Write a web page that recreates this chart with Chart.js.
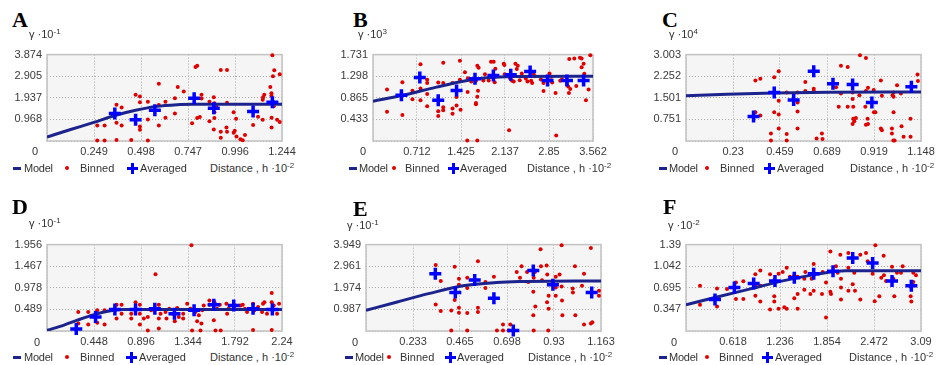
<!DOCTYPE html>
<html><head><meta charset="utf-8">
<script src="https://cdn.jsdelivr.net/npm/chart.js@4.4.0/dist/chart.umd.min.js"></script>
<style>
body{margin:0;background:#fff;width:938px;height:365px;overflow:hidden;position:relative;font-family:"Liberation Sans",Arial,sans-serif;}
canvas{position:absolute;}
.t{position:absolute;white-space:nowrap;color:#333;font-size:11px;line-height:11px;}
.m{letter-spacing:-0.25px;}
.s{font-size:8px;position:relative;top:-4px;}
.letter{position:absolute;font-family:"Liberation Serif","Times New Roman",serif;font-weight:bold;font-size:22px;line-height:22px;color:#000;}
.ic{position:absolute;}
</style>
</head><body>
<script>
// ---------- data ----------
const xTicksA = ['0','0.249','0.498','0.747','0.996','1.244'];
const yTicksA = ['0','0.968','1.937','2.905','3.874'];
const xTicksB = ['0','0.712','1.425','2.137','2.85','3.562'];
const yTicksB = ['0','0.433','0.865','1.298','1.731'];
const xTicksC = ['0','0.23','0.459','0.689','0.919','1.148'];
const yTicksC = ['0','0.751','1.501','2.252','3.003'];
const xTicksD = ['0','0.448','0.896','1.344','1.792','2.24'];
const yTicksD = ['0','0.489','0.978','1.467','1.956'];
const xTicksE = ['0','0.233','0.465','0.698','0.93','1.163'];
const yTicksE = ['0','0.987','1.974','2.961','3.949'];
const xTicksF = ['0','0.618','1.236','1.854','2.472','3.09'];
const yTicksF = ['0','0.347','0.695','1.042','1.39'];

const panelLetters = ['A','B','C','D','E','F'];
const yUnitExp = ['-1','3','4','-1','-1','-2'];

const binnedA = [[0.266,0.69],[0.305,0.69],[0.266,0.02],[0.305,0.02],[0.368,1.629],[0.395,1.497],[0.368,0.822],[0.395,0.69],[0.368,0.044],[0.446,0.044],[0.469,2.069],[0.492,1.996],[0.492,1.732],[0.534,1.761],[0.492,0.646],[0.492,0.499],[0.534,0.968],[0.534,0.02],[0.592,2.568],[0.592,1.614],[0.592,0.69],[0.627,1.761],[0.627,1.042],[0.677,1.922],[0.692,2.421],[0.677,1.233],[0.724,2.216],[0.768,0.792],[0.786,3.316],[0.795,3.375],[0.795,1.027],[0.809,1.071],[0.818,2.069],[0.818,1.908],[0.86,1.761],[0.86,0.88],[0.883,1.966],[0.886,1.688],[0.886,1.291],[0.886,1.027],[0.883,0.514],[0.895,1.555],[0.92,3.184],[0.953,3.184],[0.92,0.411],[0.92,0.147],[0.95,0.602],[0.953,0.411],[0.953,1.717],[0.988,1.291],[1.001,0.998],[0.994,0.455],[0.988,0.367],[1.003,0.205],[1.024,0.073],[1.036,0.029],[1.048,0.264],[1.091,0.719],[1.117,1.086],[1.142,0.954],[1.142,1.849],[1.15,2.069],[1.144,1.966],[1.182,2.421],[1.188,2.142],[1.188,2.025],[1.196,2.905],[1.203,3.17],[1.193,3.845],[1.189,1.042],[1.189,0.602],[1.218,0.954],[1.232,2.994],[1.232,0.851],[1.2,1.732],[1.2,1.555]];
const averagedA = [[0.359,1.233],[0.469,0.954],[0.571,1.379],[0.779,1.922],[0.883,1.467],[1.091,1.321],[1.193,1.732]];
const modelA = [[0,0.176],[0.125,0.514],[0.248,0.836],[0.359,1.145],[0.469,1.379],[0.571,1.541],[0.689,1.629],[0.777,1.643],[1.244,1.643]];

const binnedB = [[0.227,1.034],[0.227,0.585],[0.476,1.179],[0.476,0.519],[0.639,1.008],[0.639,0.836],[0.769,1.536],[0.769,1.054],[0.769,0.816],[0.877,1.226],[0.877,1.16],[0.877,0.941],[0.877,0.697],[1.056,1.173],[1.056,0.499],[1.056,0.598],[1.137,0.677],[1.137,1.16],[1.137,1.569],[1.137,0.618],[1.288,1.16],[1.288,0.651],[1.288,0.545],[1.353,0.71],[1.353,0.882],[1.407,1.609],[1.407,1.226],[1.418,0.624],[1.489,1.378],[1.532,0.981],[1.537,1.259],[1.591,1.193],[1.667,1.206],[1.689,1.51],[1.71,1.47],[1.7,1.008],[1.689,0.889],[1.667,0.763],[1.667,0.737],[1.526,0.01],[1.689,0.01],[1.786,1.212],[1.813,1.338],[1.873,1.212],[1.911,1.589],[1.954,1.589],[1.97,1.179],[1.97,1.285],[1.981,1.45],[2.117,1.549],[2.127,1.523],[2.133,1.338],[2.208,1.298],[2.219,1.259],[2.252,1.206],[2.279,1.193],[2.203,0.215],[2.306,1.549],[2.344,1.51],[2.328,1.444],[2.376,1.219],[2.409,1.351],[2.474,1.252],[2.501,1.193],[2.56,1.206],[2.577,1.16],[2.598,1.338],[2.62,1.298],[2.717,1.232],[2.761,1.001],[2.761,1.16],[2.858,1.351],[2.885,1.285],[2.901,1.173],[2.966,0.109],[2.956,0.961],[3.031,1.206],[3.058,1.232],[3.14,1.14],[3.161,1.093],[3.172,0.961],[3.177,1.642],[3.259,1.655],[3.194,1.041],[3.291,1.1],[3.351,1.668],[3.378,1.477],[3.378,1.655],[3.41,1.549],[3.421,1.345],[3.448,0.816],[3.491,1.034],[3.518,1.72]];
const averagedB = [[0.46,0.915],[0.758,1.272],[1.056,0.816],[1.353,1.014],[1.651,1.245],[1.949,1.312],[2.23,1.325],[2.544,1.391],[2.826,1.212],[3.14,1.212],[3.41,1.212]];
const modelB = [[0,0.796],[0.487,0.915],[1.028,1.08],[1.462,1.199],[1.84,1.265],[2.273,1.292],[3.562,1.298]];

const binnedC = [[0.339,2.104],[0.363,2.161],[0.339,1.001],[0.363,0.887],[0.431,2.218],[0.453,2.423],[0.453,1.399],[0.431,1.001],[0.453,0.921],[0.453,0.432],[0.415,0.262],[0.415,0.02],[0.492,1.684],[0.492,0.239],[0.492,0.02],[0.545,1.684],[0.545,1.342],[0.545,1.024],[0.545,0.432],[0.583,2.048],[0.583,1.74],[0.624,1.82],[0.624,1.74],[0.638,0.091],[0.664,0.262],[0.667,0.068],[0.733,1.866],[0.757,2.616],[0.757,1.649],[0.79,2.571],[0.746,1.194],[0.79,1.194],[0.814,1.684],[0.814,1.456],[0.817,1.194],[0.817,0.774],[0.822,0.683],[0.83,0.796],[0.814,0.592],[0.85,2.98],[0.879,2.889],[0.847,1.593],[0.879,1.74],[0.889,1.854],[0.876,1.194],[0.887,0.774],[0.889,0.592],[0.879,0.569],[0.917,1.775],[0.918,1.001],[0.925,1.001],[0.952,2.104],[0.957,1.57],[0.952,0.432],[0.957,0.375],[1.014,1.684],[1.014,1.536],[1.009,1.593],[1.031,1.934],[1.05,1.649],[1.014,1.001],[1.006,0.432],[1.006,0.262],[1.013,0.02],[1.019,0.02],[1.053,0.512],[1.063,0.148],[1.097,0.774],[1.097,0.148],[1.131,2.309],[1.133,2.082]];
const averagedC = [[0.33,0.853],[0.431,1.684],[0.526,1.422],[0.624,2.423],[0.718,1.991],[0.814,1.968],[0.908,1.342],[1.101,1.888]];
const modelC = [[0,1.57],[0.2,1.625],[0.431,1.672],[0.7,1.695],[1.148,1.706]];

const binnedD = [[0.298,0.43],[0.298,0.17],[0.393,0.43],[0.393,0.148],[0.479,0.467],[0.479,0.185],[0.549,0.467],[0.549,0.148],[0.663,0.593],[0.663,0.282],[0.711,0.593],[0.711,0.393],[0.803,0.393],[0.803,0.282],[0.844,0.652],[0.885,0.593],[0.885,0.393],[0.885,0.148],[0.923,0.282],[0.961,0.319],[0.961,0.01],[0.993,0.467],[1.034,1.282],[1.066,0.593],[1.066,0.282],[1.066,0.059],[1.06,0.504],[1.082,0.393],[1.13,0.43],[1.139,0.282],[1.165,0.504],[1.199,0.393],[1.218,0.222],[1.241,0.519],[1.256,0.319],[1.298,0.393],[1.298,0.282],[1.336,0.615],[1.368,0.504],[1.383,0.01],[1.377,1.941],[1.415,0.43],[1.431,0.222],[1.447,0.356],[1.463,0.01],[1.472,0.17],[1.479,0.467],[1.494,0.578],[1.548,0.689],[1.548,0.593],[1.59,0.245],[1.596,0.652],[1.621,0.504],[1.656,0.01],[1.606,0.01],[1.647,0.593],[1.71,0.615],[1.717,0.393],[1.732,0.504],[1.78,0.541],[1.796,0.578],[1.843,0.578],[1.866,0.593],[1.888,0.504],[1.907,0.43],[1.964,0.615],[1.964,0.022],[1.977,0.467],[2.012,0.541],[2.05,0.43],[2.059,0.615],[2.072,0.652],[2.097,0.393],[2.142,0.859],[2.142,0.652],[2.142,0.022],[2.161,0.578],[2.193,0.393],[2.212,0.615]];
const averagedD = [[0.279,0.044],[0.463,0.319],[0.647,0.489],[0.844,0.489],[1.028,0.504],[1.215,0.393],[1.402,0.467],[1.59,0.593],[1.78,0.578],[1.964,0.504],[2.148,0.489]];
const modelD = [[0,0.015],[0.162,0.133],[0.289,0.245],[0.447,0.37],[0.606,0.459],[0.733,0.489],[2.24,0.489]];

const binnedE = [[0.345,3.022],[0.37,2.289],[0.345,1.212],[0.37,0.912],[0.422,0.942],[0.439,2.932],[0.439,1.421],[0.46,2.393],[0.46,2.109],[0.46,1.062],[0.46,0.838],[0.422,0.02],[0.501,2.438],[0.501,1.96],[0.501,0.823],[0.501,0.02],[0.554,3.186],[0.554,1.062],[0.554,0.868],[0.591,2.244],[0.591,1.96],[0.633,2.483],[0.648,0.02],[0.678,0.299],[0.678,0.02],[0.706,0.02],[0.714,0.299],[0.746,2.692],[0.762,2.438],[0.77,2.962],[0.797,2.692],[0.803,2.244],[0.828,1.795],[0.83,2.438],[0.836,2.692],[0.828,0.718],[0.838,1.122],[0.83,0.02],[0.864,3.74],[0.866,2.962],[0.871,2.318],[0.894,2.992],[0.897,2.588],[0.896,1.316],[0.904,1.615],[0.904,1.017],[0.902,0.02],[0.939,2.483],[0.939,1.989],[0.939,1.615],[0.958,2.588],[0.968,3.919],[0.968,2.034],[0.97,1.391],[0.972,0.718],[1.023,1.945],[1.024,1.765],[1.034,2.962],[1.036,0.718],[1.069,2.064],[1.079,2.618],[1.079,0.299],[1.113,3.799],[1.113,0.344],[1.12,0.404],[1.153,1.84],[1.153,1.615]];
const averagedE = [[0.343,2.618],[0.442,1.765],[0.538,2.333],[0.633,1.496],[0.729,0.02],[0.828,2.767],[0.925,2.109],[1.117,1.765]];
const modelE = [[0,0.942],[0.15,1.316],[0.315,1.72],[0.48,2.064],[0.645,2.214],[0.76,2.259],[1.163,2.289]];

const binnedF = [[0.184,0.727],[0.184,0.421],[0.408,0.684],[0.408,0.395],[0.539,0.674],[0.657,0.779],[0.657,0.516],[0.754,0.8],[0.754,0.516],[0.912,0.911],[0.912,0.727],[0.912,0.569],[0.977,0.974],[0.977,0.727],[0.977,0.474],[1.105,0.911],[1.105,0.347],[1.161,0.821],[1.161,0.558],[1.161,0.474],[1.218,0.921],[1.218,0.358],[1.271,0.948],[1.293,0.384],[1.324,1.016],[1.324,0.358],[1.367,0.874],[1.424,0.895],[1.424,0.527],[1.468,0.595],[1.468,0.874],[1.468,0.358],[1.556,0.842],[1.556,0.663],[1.569,0.948],[1.635,0.595],[1.652,0.842],[1.679,1.079],[1.679,0.895],[1.679,0.648],[1.788,0.595],[1.797,0.948],[1.841,0.779],[1.841,0.216],[1.898,1.279],[1.898,0.632],[1.907,0.595],[1.972,1.042],[1.994,0.937],[2.029,1.227],[2.038,0.7],[2.038,0.505],[2.038,0.842],[2.135,1.253],[2.135,1.016],[2.135,0.648],[2.192,0.753],[2.213,0.937],[2.222,0.648],[2.292,1.227],[2.292,0.505],[2.367,1.253],[2.389,1.121],[2.454,0.921],[2.49,1.379],[2.481,0.479],[2.542,0.558],[2.568,0.858],[2.599,1.211],[2.603,0.895],[2.63,0.806],[2.709,1.032],[2.726,0.842],[2.774,0.937],[2.827,0.937],[2.739,0.558],[2.849,1.042],[2.954,0.711],[2.954,0.558],[2.963,0.474],[2.989,0.937],[2.989,0.79],[3.024,0.895]];
const averagedF = [[0.381,0.505],[0.636,0.7],[0.89,0.763],[1.17,0.806],[1.424,0.858],[1.679,0.921],[1.933,0.963],[2.192,1.174],[2.454,1.095],[2.709,0.806],[2.963,0.727]];
const modelF = [[0,0.421],[0.394,0.542],[0.833,0.674],[1.271,0.806],[1.709,0.911],[2.1,0.968],[3.09,0.968]];

// ---------- layout ----------
const YW = 45, PT = 10, PR = 18, XH = 20;
const panels = [
  {L:47,  R:282, T:53,  B:141, xt:xTicksA, yt:yTicksA, binned:binnedA, avg:averagedA, model:modelA},
  {L:373, R:593, T:53,  B:141, xt:xTicksB, yt:yTicksB, binned:binnedB, avg:averagedB, model:modelB},
  {L:686, R:921, T:53,  B:141, xt:xTicksC, yt:yTicksC, binned:binnedC, avg:averagedC, model:modelC},
  {L:47,  R:282, T:243, B:331, xt:xTicksD, yt:yTicksD, binned:binnedD, avg:averagedD, model:modelD},
  {L:366, R:601, T:243, B:331, xt:xTicksE, yt:yTicksE, binned:binnedE, avg:averagedE, model:modelE},
  {L:686, R:921, T:243, B:331, xt:xTicksF, yt:yTicksF, binned:binnedF, avg:averagedF, model:modelF}
];
const deco = [
  {lx:12, ly:9,   ux:29,  uy:29,  zx:35,  zy:151, lg:{y:168, dash:13,  model:24,  dot:67,  binned:80,  cross:132, averaged:140, dist:210}},
  {lx:353,ly:9,   ux:358, uy:29,  zx:363, zy:151, lg:{y:168, dash:349, model:359, dot:394, binned:405, cross:453, averaged:460, dist:527}},
  {lx:662,ly:9,   ux:669, uy:29,  zx:675, zy:151, lg:{y:168, dash:659, model:669, dot:707, binned:720, cross:769, averaged:777, dist:850}},
  {lx:12, ly:196, ux:29,  uy:218, zx:37,  zy:342, lg:{y:357, dash:13,  model:24,  dot:67,  binned:80,  cross:131, averaged:139, dist:210}},
  {lx:353,ly:198, ux:347, uy:220, zx:355, zy:342, lg:{y:357, dash:345, model:355, dot:389, binned:400, cross:450, averaged:457, dist:528}},
  {lx:663,ly:196, ux:668, uy:220, zx:674, zy:342, lg:{y:357, dash:659, model:669, dot:707, binned:719, cross:767, averaged:775, dist:849}}
];

const frame = {
  id:'frame',
  beforeDraw(c){const a=c.chartArea,x=c.ctx;x.save();x.fillStyle='#f5f5f5';x.fillRect(a.left,a.top,a.right-a.left,a.bottom-a.top);x.restore();},
  beforeDatasetsDraw(c){const a=c.chartArea,x=c.ctx;x.save();x.strokeStyle='#c2c2c2';x.lineWidth=1.5;x.strokeRect(a.left,a.top,a.right-a.left,a.bottom-a.top);x.restore();}
};

function addEl(cls, x, y, html, style){
  const d=document.createElement('div'); d.className=cls; d.style.left=x+'px'; d.style.top=y+'px';
  if(html!==null) d.innerHTML=html; if(style) Object.assign(d.style, style);
  document.body.appendChild(d); return d;
}
const toXY = arr => arr.map(p => ({x:p[0], y:p[1]}));
const tickFont = {family:'"Liberation Sans", Arial, sans-serif', size:11};

panels.forEach((p, k) => {
  const cv = document.createElement('canvas');
  const w = YW + (p.R - p.L) + PR, h = PT + (p.B - p.T) + XH;
  cv.width = w; cv.height = h;
  cv.style.left = (p.L - YW) + 'px'; cv.style.top = (p.T - PT) + 'px';
  document.body.appendChild(cv);
  const xmax = parseFloat(p.xt[p.xt.length-1]), ymax = parseFloat(p.yt[p.yt.length-1]);
  new Chart(cv, {
    type:'scatter',
    data:{datasets:[
      {label:'Binned', data:toXY(p.binned), pointStyle:'circle', pointRadius:2, backgroundColor:'#e00000', borderWidth:0, order:3, clip:false},
      {label:'Model', type:'line', data:toXY(p.model), borderColor:'#1c238c', borderWidth:3, pointRadius:0, cubicInterpolationMode:'monotone', fill:false, order:2},
      {label:'Averaged', data:toXY(p.avg), pointStyle:'cross', pointRadius:6, borderColor:'#0000ff', backgroundColor:'#0000ff', borderWidth:3.5, order:1, clip:false}
    ]},
    options:{
      responsive:false, animation:false, events:[],
      layout:{padding:{top:PT, right:PR, left:0, bottom:0}},
      plugins:{legend:{display:false}, tooltip:{enabled:false}},
      scales:{
        x:{type:'linear', min:0, max:xmax,
           afterBuildTicks:s=>{s.ticks=p.xt.map(v=>({value:parseFloat(v)}));},
           afterFit:s=>{s.height=XH;},
           grid:{color:'#a9a9a9', lineWidth:1, drawTicks:false},
           border:{display:false, dash:[1,2]},
           ticks:{autoSkip:false, maxRotation:0, padding:4, color:'#3a3a3a', font:tickFont, callback:(v,i)=> i===0 ? '' : p.xt[i]}},
        y:{type:'linear', min:0, max:ymax,
           afterBuildTicks:s=>{s.ticks=p.yt.map(v=>({value:parseFloat(v)}));},
           afterFit:s=>{s.width=YW;},
           grid:{color:'#a9a9a9', lineWidth:1, drawTicks:false},
           border:{display:false, dash:[1,2]},
           ticks:{autoSkip:false, padding:5, color:'#3a3a3a', font:tickFont, callback:(v,i)=> i===0 ? '' : p.yt[i]}}
      }
    },
    plugins:[frame]
  });

  const d = deco[k];
  addEl('letter', d.lx, d.ly, panelLetters[k]);
  addEl('t', d.ux, d.uy, 'γ ·10<span class="s">' + yUnitExp[k] + '</span>');
  addEl('t', d.zx - 5, d.zy - 5.3, '0', {width:'10px', textAlign:'center'});
  const g = d.lg, ty = g.y - 5.3;
  addEl('ic', g.dash, g.y - 1.5, null, {width:'8px', height:'3px', background:'#1c238c'});
  addEl('t m', g.model, ty, 'Model');
  addEl('ic', g.dot - 2, g.y - 2, null, {width:'4px', height:'4px', borderRadius:'50%', background:'#e00000'});
  addEl('t', g.binned, ty, 'Binned');
  addEl('ic', g.cross - 5.5, g.y - 1.5, null, {width:'11px', height:'3px', background:'#0000ff'});
  addEl('ic', g.cross - 1.5, g.y - 5.5, null, {width:'3px', height:'11px', background:'#0000ff'});
  addEl('t', g.averaged, ty, 'Averaged');
  addEl('t', g.dist, ty, 'Distance , h ·10<span class="s">-2</span>');
});
</script>
</body></html>
